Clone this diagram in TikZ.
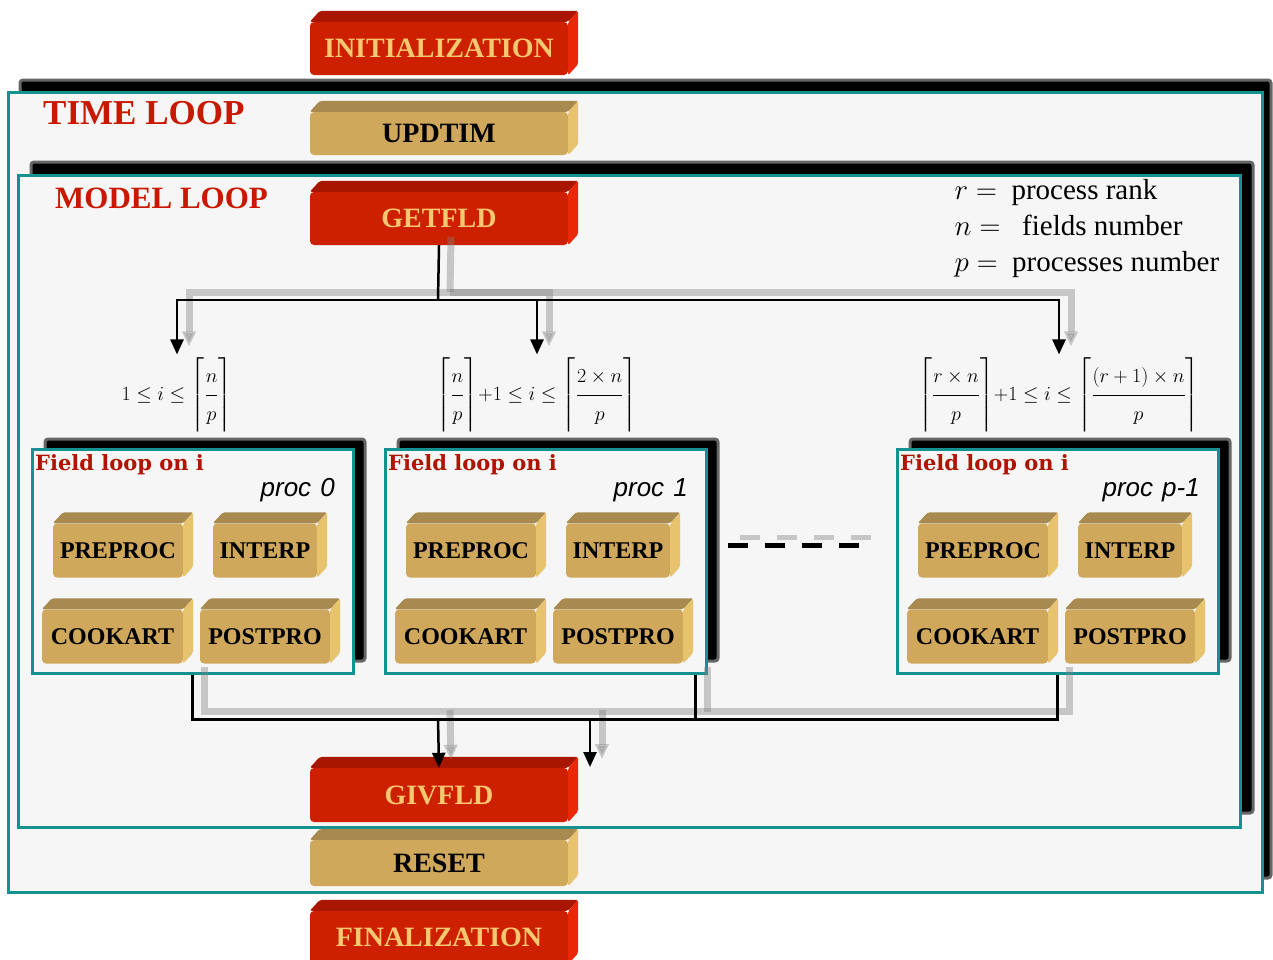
\documentclass[tikz,border=0pt]{standalone}
\usepackage{fix-cm}
\usepackage{amsmath}
\usepackage{fontspec}
\setmainfont{Liberation Serif}
\setsansfont{Liberation Sans}
\newfontfamily\slabfont{DejaVu Serif}
\usepackage{xcolor}
\usepackage{tikz}
\usetikzlibrary{arrows.meta}
\definecolor{loopteal}{RGB}{20,145,145}
\definecolor{loopfill}{RGB}{246,246,246}
\definecolor{titlered}{RGB}{200,25,0}
\definecolor{fieldred}{RGB}{175,20,0}
\definecolor{redfront}{RGB}{205,32,0}
\definecolor{redtop}{RGB}{168,22,0}
\definecolor{redside}{RGB}{235,40,5}
\definecolor{redtext}{RGB}{248,200,112}
\definecolor{goldfront}{RGB}{207,168,92}
\definecolor{goldtop}{RGB}{168,138,80}
\definecolor{goldside}{RGB}{232,195,110}

% top and right faces of a 3d block
\newcommand{\blockfaces}[3]{%
  \fill[#2, rounded corners=2pt] (#1.north west) -- ++(10,-11) -- ([shift={(10,-11)}]#1.north east) -- (#1.north east) -- cycle;
  \fill[#3, rounded corners=2pt] (#1.north east) -- ++(10,-11) -- ([shift={(10,-11)}]#1.south east) -- (#1.south east) -- cycle;
}
% all connectors (drawn twice: shadow and line)
\newcommand{\flowlines}{%
  \draw (getfld.south) -- (split);
  \draw[flowarrow] (split) -| (rng0.north);
  \draw[flowarrow] (split) -| (rng1.north);
  \draw[flowarrow] (split) -| (rngp.north);
  \draw (box0.south) -- ++(0,45) -| (boxp.south);
  \draw ([xshift=150]box1.south) -- ++(0,45);
  \draw[flowarrow] (merge1) -- (givfld.north);
  \draw[flowarrow] (merge2) -- (givin);
  \draw[line width=5pt, dash pattern=on 20pt off 17pt] (dotsL) -- (dotsR);
}
\newcommand{\ceilfrac}[2]{{\left\lceil\dfrac{\strut #1}{\strut #2}\right\rceil}}

\tikzset{
  bigblock/.style={rectangle, rounded corners=4pt, minimum width=258pt, minimum height=53pt, inner sep=0pt, font=\bfseries\fontsize{28}{30}\selectfont},
  redblock/.style={bigblock, fill=redfront, text=redtext},
  goldblock/.style={bigblock, fill=goldfront, text=black},
  smallblock/.style={rectangle, rounded corners=4pt, minimum height=54pt, inner sep=0pt, fill=goldfront, font=\bfseries\fontsize{24}{26}\selectfont},
  loopbox/.style={draw=loopteal, line width=3pt, fill=loopfill},
  boxshadow/.style={fill=black, draw=black!60, line width=3pt, rounded corners=3pt},
  looptitle/.style={anchor=west, inner sep=0pt, text=titlered},
  fieldbox/.style={loopbox, minimum width=321pt, minimum height=224pt, inner sep=0pt},
  fieldtitle/.style={anchor=west, inner sep=0pt, text=fieldred, font=\slabfont\bfseries\fontsize{21}{23}\selectfont},
  proclabel/.style={anchor=east, inner sep=0pt, font=\sffamily\itshape\fontsize{26}{28}\selectfont},
  rangelabel/.style={inner sep=3pt, font=\fontsize{20}{32}\selectfont},
  flow/.style={line width=2.5pt, black},
  flowarrow/.style={-{Triangle[length=15pt,width=13pt]}},
  flowshadow/.style={line width=7pt, gray, opacity=0.4},
}

\begin{document}
\begin{tikzpicture}[x=1pt, y=-1pt]
\useasboundingbox (0,0) rectangle (1273,959);
\clip (0,0) rectangle (1273,959);
\fill[white] (0,0) rectangle (1273,959);

% time loop / model loop
\filldraw[boxshadow] (20,80) rectangle (1271,878);
\draw[loopbox] (8,92) rectangle (1262,892);
\filldraw[boxshadow] (31,162) rectangle (1253,813);
\draw[loopbox] (18,175) rectangle (1240,827);
\node[looptitle, font=\bfseries\fontsize{35}{37}\selectfont] (timeloop) at (43,113) {TIME LOOP};
\node[looptitle, font=\bfseries\fontsize{31}{33}\selectfont] (modelloop) at (55,198) {MODEL LOOP};

\node[redblock] (init) at (439,48.5) {INITIALIZATION};
\node[goldblock, minimum height=43pt] (updtim) at (439,133.5) {UPDTIM};
\node[redblock] (getfld) at (439,218.5) {GETFLD};
\node[redblock, minimum height=54pt] (givfld) at (439,795) {GIVFLD};
\node[goldblock, minimum height=46pt] (reset) at (439,863) {RESET};
\node[redblock] (final) at (439,937.5) {FINALIZATION};
\blockfaces{init}{redtop}{redside}
\blockfaces{updtim}{goldtop}{goldside}
\blockfaces{getfld}{redtop}{redside}
\blockfaces{givfld}{redtop}{redside}
\blockfaces{reset}{goldtop}{goldside}
\blockfaces{final}{redtop}{redside}

\node[anchor=west, align=left, font=\fontsize{29}{36}\selectfont] (legend) at (951,229)
  {$r =$\ \ process rank\\ $n =$\ \ \ fields number\\ $p =$\ \ processes number};

\node[rangelabel] (rng0) at (177,395) {$1\le i\le\ceilfrac{n}{p}$};
\node[rangelabel] (rng1) at (537,395) {$\ceilfrac{n}{p}{+}1\le i\le\ceilfrac{2\times n}{p}$};
\node[rangelabel] (rngp) at (1059,395) {$\ceilfrac{r\times n}{p}{+}1\le i\le\ceilfrac{(r+1)\times n}{p}$};

% field loops, one per process
\foreach \xo/\nm/\pr in {0/0/0, 353/1/1, 865/p/p-1}{
  \begin{scope}[xshift=\xo]
    \filldraw[boxshadow] (45,439) rectangle (365,661);
    \node[fieldbox] (box\nm) at (192.5,561) {};
    \node[fieldtitle] (fld\nm) at (35,465) {Field loop on i};
    \node[proclabel] (proc\nm) at (335,490) {proc\hspace{0.35em}\pr};
    \node[smallblock, minimum width=130pt] (pre\nm) at (118,550.5) {PREPROC};
    \node[smallblock, minimum width=104pt] (int\nm) at (265,550.5) {INTERP};
    \node[smallblock, minimum width=141pt] (cook\nm) at (112.5,636.5) {COOKART};
    \node[smallblock, minimum width=130pt] (post\nm) at (265,636.5) {POSTPRO};
  \end{scope}
}
\foreach \nm in {0,1,p}
  \foreach \b in {pre,int,cook,post}
    {\blockfaces{\b\nm}{goldtop}{goldside}}

\coordinate (split) at (438,300);
\coordinate (merge1) at (438,718);
\coordinate (merge2) at (590,718);
\coordinate (givin) at (590,767);
\coordinate (dotsL) at (728,545);
\coordinate (dotsR) at (865,545);

\begin{scope}[transform canvas={shift={(12,-8)}}, flowshadow]
  \flowlines
\end{scope}
\begin{scope}[flow]
  \flowlines
\end{scope}
\end{tikzpicture}
\end{document}
